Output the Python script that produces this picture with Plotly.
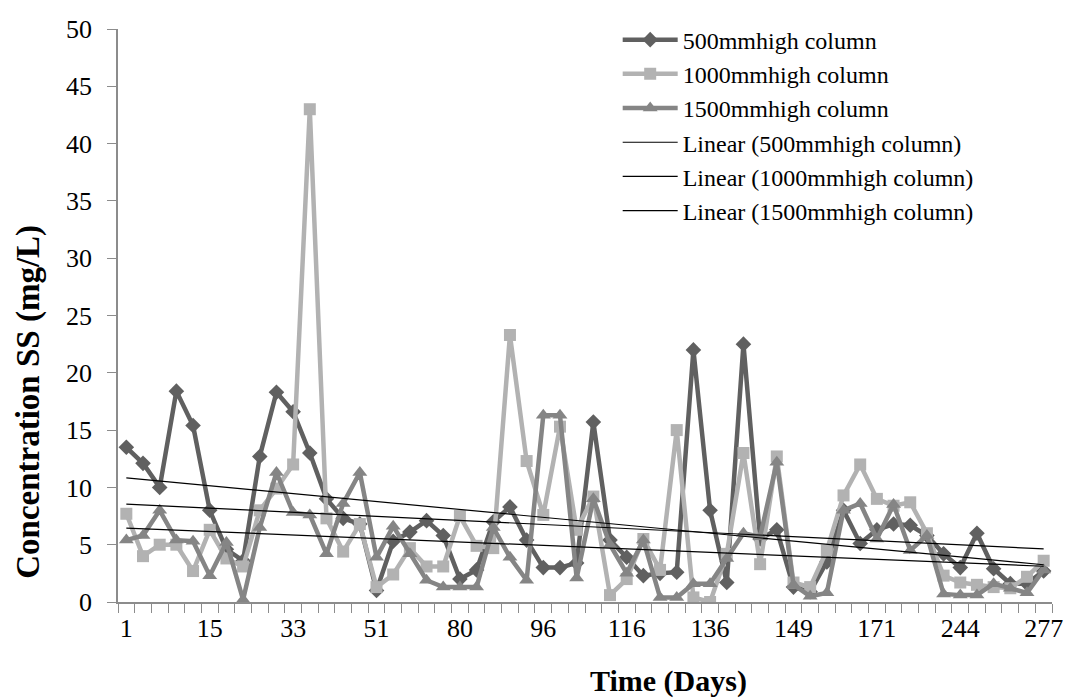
import numpy as np
import plotly.graph_objects as go

# Sample index (category position) and the day labels shown on the axis
n_samples = 56
tick_positions = [0, 5, 10, 15, 20, 25, 30, 35, 40, 45, 50, 55]
tick_labels = ["1", "15", "33", "51", "80", "96", "116", "136", "149", "171", "244", "277"]

ss_500 = [13.5, 12.1, 10.0, 18.4, 15.4, 8.0, 4.6, 3.6, 12.7, 18.3,
          16.6, 13.0, 9.0, 7.3, 6.8, 1.0, 5.3, 6.1, 7.1, 5.8,
          2.0, 2.8, 7.0, 8.3, 5.4, 3.0, 3.0, 3.4, 15.7, 5.4,
          3.9, 2.3, 2.5, 2.6, 22.0, 8.0, 1.7, 22.5, 5.5, 6.3,
          1.3, 0.9, 3.5, 8.0, 5.1, 6.3, 6.8, 6.7, 5.8, 4.2,
          3.0, 6.0, 2.9, 1.6, 1.6, 2.7]
ss_1000 = [7.7, 4.0, 5.0, 5.0, 2.7, 6.3, 3.8, 3.1, 8.0, 9.9,
           12.0, 43.0, 7.3, 4.4, 6.8, 1.3, 2.4, 4.7, 3.1, 3.1,
           7.5, 4.9, 4.7, 23.3, 12.3, 7.6, 15.3, 6.3, 9.2, 0.6,
           2.0, 5.5, 2.8, 15.0, 0.4, 0.0, 4.2, 13.0, 3.3, 12.7,
           1.7, 1.3, 4.5, 9.3, 12.0, 9.0, 8.4, 8.7, 6.0, 2.3,
           1.7, 1.5, 1.3, 1.2, 2.2, 3.6]
ss_1500 = [5.4, 5.8, 8.0, 5.4, 5.3, 2.3, 5.2, 0.2, 6.5, 11.3,
           7.8, 7.6, 4.2, 8.6, 11.3, 3.9, 6.6, 4.2, 1.9, 1.3,
           1.3, 1.3, 6.5, 3.9, 1.9, 16.3, 16.3, 2.1, 9.0, 5.0,
           2.5, 5.4, 0.4, 0.4, 1.6, 1.6, 3.8, 6.0, 5.7, 12.2,
           1.5, 0.5, 0.8, 8.0, 8.6, 5.5, 8.5, 4.5, 5.8, 0.7,
           0.6, 0.6, 1.6, 1.2, 0.8, 2.8]

x = np.arange(n_samples)
FONT = "Liberation Serif"

series = [
    ("500mmhigh column", ss_500, "#606060", "diamond", 12),
    ("1000mmhigh column", ss_1000, "#b2b2b2", "square", 12),
    ("1500mmhigh column", ss_1500, "#858585", "triangle-up", 13),
]

fig = go.Figure()
for k, (name, vals, col, sym, sz) in enumerate(series):
    fig.add_trace(go.Scatter(
        x=x, y=vals, name=name, mode="lines+markers",
        line=dict(color=col, width=4.5),
        marker=dict(symbol=sym, size=sz, color=col),
        legendgroup=f"g{k}",
    ))

for k, (name, vals, col, sym, sz) in enumerate(series):
    slope, intercept = np.polyfit(x, np.array(vals), 1)
    xx = np.array([0, n_samples - 1])
    fig.add_trace(go.Scatter(
        x=xx, y=slope * xx + intercept, name=f"Linear ({name})", mode="lines",
        line=dict(color="black", width=1.2),
        legendgroup=f"t{k}",
    ))

fig.update_layout(
    width=1075, height=698,
    margin=dict(l=118, r=20, t=29, b=96),
    paper_bgcolor="white", plot_bgcolor="white",
    font=dict(family=FONT, size=25, color="black"),
    showlegend=True,
    legend=dict(
        x=0.535, y=1.02, xanchor="left", yanchor="top",
        font=dict(family=FONT, size=24, color="black"),
        bgcolor="rgba(0,0,0,0)", itemwidth=55,
        tracegroupgap=0, traceorder="grouped",
    ),
    xaxis=dict(
        range=[-0.5, n_samples - 0.5],
        tickmode="array", tickvals=tick_positions, ticktext=tick_labels,
        ticks="", showgrid=False, zeroline=False,
        showline=True, linecolor="#8c8c8c", linewidth=1.5,
        tickfont=dict(family=FONT, size=26),
        ticklabelstandoff=2,
        minor=dict(tick0=-0.5, dtick=1, ticks="outside", ticklen=9,
                   tickcolor="#8c8c8c", tickwidth=1.2, showgrid=False),
    ),
    yaxis=dict(
        range=[0, 50], tickmode="linear", tick0=0, dtick=5,
        ticks="outside", ticklen=9, tickcolor="#8c8c8c", tickwidth=1.2,
        showgrid=False, zeroline=False,
        showline=True, linecolor="#8c8c8c", linewidth=1.5,
        tickfont=dict(family=FONT, size=26),
        ticklabelstandoff=10,
    ),
    annotations=[
        dict(text="<b>Concentration SS (mg/L)</b>", textangle=-90,
             xref="paper", yref="paper", x=-0.096, y=0.35,
             xanchor="center", yanchor="middle", showarrow=False,
             font=dict(family=FONT, size=33, color="black")),
        dict(text="<b>Time (Days)</b>",
             xref="paper", yref="paper", x=0.589, y=-0.137,
             xanchor="center", yanchor="middle", showarrow=False,
             font=dict(family=FONT, size=30, color="black")),
    ],
)

fig.write_html("out.html", config={"displayModeBar": False},
               post_script="document.body.style.margin='0';document.body.style.padding='0';")
